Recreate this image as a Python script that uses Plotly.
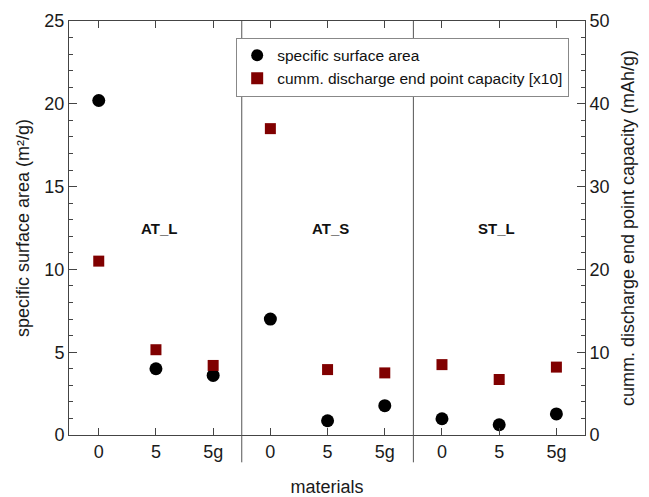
import plotly.graph_objects as go

x_pos = [1, 2, 3, 4, 5, 6, 7, 8, 9]
tick_labels = ["0", "5", "5g", "0", "5", "5g", "0", "5", "5g"]
surface_area = [20.2, 4.0, 3.6, 7.0, 0.86, 1.77, 0.98, 0.62, 1.27]
capacity = [21.0, 10.3, 8.4, 37.0, 7.9, 7.5, 8.5, 6.7, 8.2]
groups = ["AT_L", "AT_S", "ST_L"]
group_centers = [2.05, 5.05, 7.95]
separators = [3.5, 6.5]

FONT = "Liberation Sans, Arial, sans-serif"
AX = "#444444"
TXT = "#1a1a1a"

fig = go.Figure()
fig.add_trace(go.Scatter(
    x=x_pos, y=surface_area, mode="markers", name="specific surface area",
    marker=dict(symbol="circle", size=13, color="black"), yaxis="y"))
fig.add_trace(go.Scatter(
    x=x_pos, y=capacity, mode="markers", name="cumm. discharge end point capacity [x10]",
    marker=dict(symbol="square", size=11, color="#800000"), yaxis="y2"))

for s in separators:
    fig.add_shape(type="line", xref="x", yref="paper", x0=s, x1=s, y0=-0.066, y1=1,
                  line=dict(color="#555555", width=1))

for g, c in zip(groups, group_centers):
    fig.add_annotation(x=c, y=12.5, xref="x", yref="y", text=f"<b>{g}</b>",
                       showarrow=False, font=dict(family=FONT, size=15, color="#111111"))

fig.update_layout(
    width=649, height=497,
    margin=dict(l=69, r=64, t=21, b=62),
    paper_bgcolor="white", plot_bgcolor="white",
    font=dict(family=FONT, color=TXT),
    showlegend=True,
    legend=dict(x=0.324, y=0.96, xanchor="left", yanchor="top",
                bgcolor="white", bordercolor="#888888", borderwidth=1,
                font=dict(family=FONT, size=15.5, color="#111111"),
                itemsizing="constant", tracegroupgap=0),
    xaxis=dict(range=[0.48, 9.5], tickvals=x_pos, ticktext=tick_labels, automargin=False,
               showline=True, linecolor=AX, linewidth=1, mirror="ticks",
               ticks="inside", ticklen=7, tickcolor=AX, showgrid=False, zeroline=False,
               tickfont=dict(size=18, color=TXT),
               title=dict(text="materials", font=dict(size=18, color=TXT), standoff=20)),
    yaxis=dict(range=[0, 25], tickvals=[0, 5, 10, 15, 20, 25], automargin=False,
               showline=True, linecolor=AX, linewidth=1,
               ticks="inside", ticklen=8, tickcolor=AX, showgrid=False, zeroline=False,
               minor=dict(ticks="inside", dtick=1, ticklen=4, tickcolor=AX, showgrid=False),
               tickfont=dict(size=18, color=TXT),
               title=dict(text="specific surface area (m²/g)", font=dict(size=18, color=TXT), standoff=10)),
    yaxis2=dict(range=[0, 50], tickvals=[0, 10, 20, 30, 40, 50], overlaying="y", side="right",
                automargin=False,
                showline=True, linecolor=AX, linewidth=1,
                ticks="inside", ticklen=8, tickcolor=AX, showgrid=False, zeroline=False,
                minor=dict(ticks="inside", dtick=2, ticklen=4, tickcolor=AX, showgrid=False),
                tickfont=dict(size=18, color=TXT),
                title=dict(text="cumm. discharge end point capacity (mAh/g)", font=dict(size=18, color=TXT), standoff=12)),
)

fig.write_html("out.html")
